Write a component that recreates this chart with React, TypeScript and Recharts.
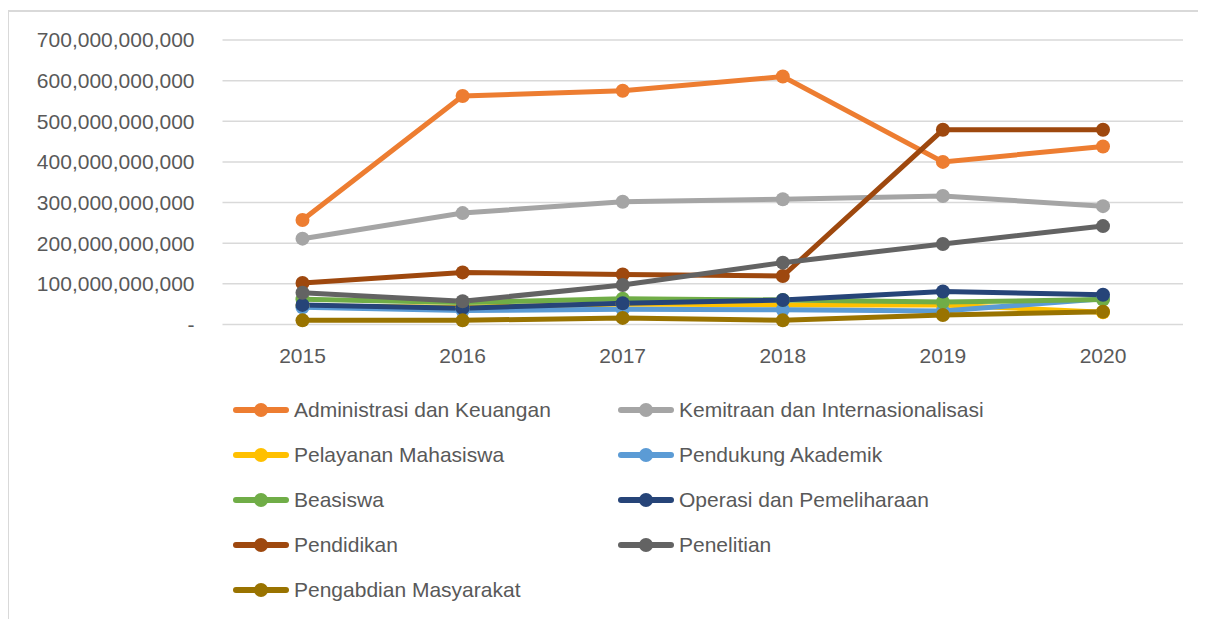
import React from "react";
import { LineChart, Line, XAxis, YAxis, CartesianGrid, Legend } from "recharts";

const years = ["2015", "2016", "2017", "2018", "2019", "2020"];
const B = 1e9;
const administrasi = [257, 562, 575, 610, 400, 438].map((v) => v * B);
const kemitraan = [211, 274, 302, 308, 316, 291].map((v) => v * B);
const pelayanan = [45, 42, 50, 48, 48, 30].map((v) => v * B);
const pendukung = [42, 34, 37, 36, 33, 63].map((v) => v * B);
const beasiswa = [62, 54, 63, 60, 55, 61].map((v) => v * B);
const operasi = [48, 40, 52, 60, 81, 73].map((v) => v * B);
const pendidikan = [102, 128, 123, 119, 479, 479].map((v) => v * B);
const penelitian = [78, 57, 97, 152, 198, 242].map((v) => v * B);
const pengabdian = [10, 10, 16, 10, 23, 31].map((v) => v * B);
const yTicks = [0, 100, 200, 300, 400, 500, 600, 700].map((v) => v * B);

const series = [
  { key: "adm", name: "Administrasi dan Keuangan", values: administrasi, color: "#ED7D31" },
  { key: "kem", name: "Kemitraan dan Internasionalisasi", values: kemitraan, color: "#A5A5A5" },
  { key: "pel", name: "Pelayanan Mahasiswa", values: pelayanan, color: "#FFC000" },
  { key: "pen", name: "Pendukung Akademik", values: pendukung, color: "#5B9BD5" },
  { key: "bea", name: "Beasiswa", values: beasiswa, color: "#70AD47" },
  { key: "ope", name: "Operasi dan Pemeliharaan", values: operasi, color: "#264478" },
  { key: "pdd", name: "Pendidikan", values: pendidikan, color: "#9E480E" },
  { key: "plt", name: "Penelitian", values: penelitian, color: "#636363" },
  { key: "pgb", name: "Pengabdian Masyarakat", values: pengabdian, color: "#997300" },
];

const data = years.map((y, i) => {
  const row: Record<string, string | number> = { year: y };
  series.forEach((s) => {
    row[s.key] = s.values[i];
  });
  return row;
});

const FONT = "'Liberation Sans', Arial, sans-serif";
const TEXT = "#595959";

const fmt = (v: number) => (v === 0 ? "-" : v.toLocaleString("en-US"));

const LegendContent = () => (
  <div
    style={{
      display: "grid",
      gridTemplateColumns: "385px 385px",
      gridAutoRows: "45px",
      fontFamily: FONT,
      fontSize: 21,
      color: TEXT,
    }}
  >
    {series.map((s) => (
      <div key={s.key} style={{ display: "flex", alignItems: "center", whiteSpace: "nowrap" }}>
        <svg width={56} height={16} style={{ marginRight: 5, flex: "none" }}>
          <line x1={3} y1={8} x2={53} y2={8} stroke={s.color} strokeWidth={6} strokeLinecap="round" />
          <circle cx={28} cy={8} r={7} fill={s.color} />
        </svg>
        <span>{s.name}</span>
      </div>
    ))}
  </div>
);

export default function App() {
  return (
    <div style={{ position: "relative", width: 1198, height: 611, overflow: "hidden" }}>
      <div
        style={{
          position: "absolute",
          left: -1,
          top: 2,
          width: 1300,
          height: 700,
          borderLeft: "2px solid #d9d9d9",
          borderTop: "2px solid #d9d9d9",
        }}
      />
      <div style={{ position: "absolute", left: 0, top: 0 }}>
        <LineChart
          width={1190}
          height={611}
          data={data}
          margin={{ top: 32, right: 15, left: 0, bottom: 254.6 }}
        >
          <CartesianGrid vertical={false} stroke="#d9d9d9" strokeWidth={1.5} />
          <XAxis
            dataKey="year"
            axisLine={false}
            tickLine={false}
            tickSize={0}
            tickMargin={24}
            height={40}
            padding={{ left: 80, right: 80 }}
            tick={{ fill: TEXT, fontSize: 21, fontFamily: FONT }}
          />
          <YAxis
            domain={[0, 700 * B]}
            ticks={yTicks}
            interval={0}
            tickFormatter={fmt}
            axisLine={false}
            tickLine={false}
            tickSize={0}
            tickMargin={28}
            width={214.5}
            tick={{ fill: TEXT, fontSize: 21, fontFamily: FONT }}
          />
          <Legend
            layout="horizontal"
            verticalAlign="middle"
            align="center"
            wrapperStyle={{ top: 379.5, left: 225, width: 800, height: 230 }}
            content={() => <LegendContent />}
          />
          {series.map((s) => (
            <Line
              key={s.key}
              dataKey={s.key}
              name={s.name}
              stroke={s.color}
              strokeWidth={5}
              dot={{ r: 7, fill: s.color, stroke: s.color, strokeWidth: 0 }}
              activeDot={false}
              isAnimationActive={false}
            />
          ))}
        </LineChart>
      </div>
    </div>
  );
}
